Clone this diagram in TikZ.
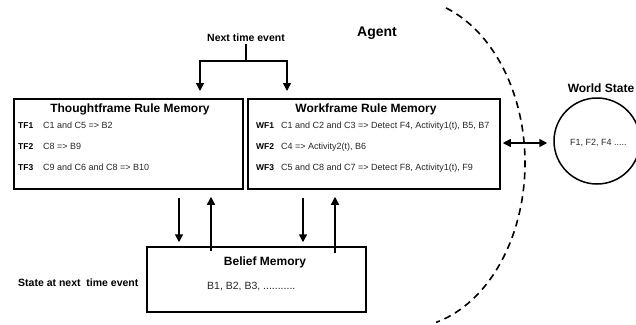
\documentclass[tikz,border=0pt]{standalone}
\usepackage{fontspec}
\setmainfont{Liberation Sans}
\usetikzlibrary{arrows.meta}
\begin{document}
\begin{tikzpicture}[x=1pt,y=-1pt,
  box/.style={draw, line width=1.5pt, inner sep=0pt},
  ttl/.style={font=\fontsize{12}{14}\selectfont\bfseries, inner sep=0pt, anchor=base},
  lbl/.style={font=\fontsize{10.5}{12}\selectfont\bfseries, inner sep=0pt, anchor=base},
  rl/.style={font=\fontsize{8.5}{10}\selectfont\bfseries, anchor=base west, inner sep=0pt},
  rt/.style={font=\fontsize{9}{10}\selectfont, anchor=base west, inner sep=0pt, text=black!85},
  arr/.style={line width=1.5pt, -{Triangle[length=8pt,width=8pt]}},
  darr/.style={line width=1.5pt, {Triangle[length=8pt,width=8pt]}-{Triangle[length=8pt,width=8pt]}},
  agentline/.style={line width=1.6pt, dash pattern=on 7pt off 5pt}
]
\path[use as bounding box] (0,0) rectangle (636,324);
\clip (0,0) rectangle (636,324);

% boxes
\node[box, minimum width=229pt, minimum height=90pt] (tf) at (128.5,144) {};
\node[box, minimum width=252pt, minimum height=90pt] (wf) at (374,144) {};
\node[box, minimum width=219pt, minimum height=65pt] (bm) at (256.5,279.5) {};
\node[draw, circle, line width=1.5pt, minimum size=86pt, inner sep=0pt] (ws) at (597,141) {};

% titles
\node[ttl] (tft) at (130,112) {Thoughtframe Rule Memory};
\node[ttl] (wft) at (366,112) {Workframe Rule Memory};
\node[ttl] (bmt) at (265,265) {Belief Memory};
\node[ttl] (wst) at (601,92.5) {World State};
\node[font=\fontsize{14}{16}\selectfont\bfseries, inner sep=0pt, anchor=base] (ag) at (377,36) {Agent};
\node[lbl] (nte) at (246,41) {Next time event};
\node[lbl, anchor=base west] (sat) at (18,286) {State at next\ \ time event};

% rules
\node[rl] (tf1l) at (18,128.5) {TF1};
\node[rt] (tf1) at (43,128.5) {C1 and C5 => B2};
\node[rl] (tf2l) at (18,149.5) {TF2};
\node[rt] (tf2) at (43,149.5) {C8 => B9};
\node[rl] (tf3l) at (18,170.5) {TF3};
\node[rt] (tf3) at (43,170.5) {C9 and C6 and C8 => B10};

\node[rl] (wf1l) at (256,128.5) {WF1};
\node[rt] (wf1) at (281,128.5) {C1 and C2 and C3 => Detect F4, Activity1(t), B5, B7};
\node[rl] (wf2l) at (256,149.5) {WF2};
\node[rt] (wf2) at (281,149.5) {C4 => Activity2(t), B6};
\node[rl] (wf3l) at (256,170.5) {WF3};
\node[rt] (wf3) at (281,170.5) {C5 and C8 and C7 => Detect F8, Activity1(t), F9};

\node[font=\fontsize{10.5}{12}\selectfont, anchor=base west, inner sep=0pt, text=black!85] (bmc) at (207,289) {B1, B2, B3, ...........};
\node[rt] (wsc) at (570,145) {F1, F2, F4 .....};

% next time event connector
\coordinate (j) at (246,61);
\coordinate (a1) at (200,91);
\coordinate (a2) at (287,91);
\draw[line width=1.5pt] (nte.south) ++(0,3) -- (j);
\draw[arr] (j) -| (a1);
\draw[arr] (j) -| (a2);

% memory arrows
\draw[arr] ([xshift=50.5pt,yshift=-8pt]tf.south) -- ([xshift=-77.5pt,yshift=4pt]bm.north);
\draw[arr] ([xshift=-45.5pt,yshift=-5pt]bm.north) -- ([xshift=82.5pt,yshift=-7pt]tf.south);
\draw[arr] ([xshift=-71pt,yshift=-8pt]wf.south) -- ([xshift=46.5pt,yshift=4pt]bm.north);
\draw[arr] ([xshift=78.5pt,yshift=-7pt]bm.north) -- ([xshift=-39pt,yshift=-7pt]wf.south);

% world interaction
\coordinate (d1) at ([xshift=2pt,yshift=1pt]wf.east);
\draw[darr] (d1) -- ([xshift=-6pt]d1 -| ws.west);

% agent boundary
\draw[agentline] plot[domain=-70:75, samples=80, smooth] ({405+120*cos(\x)}, {163+165*sin(\x)});
\end{tikzpicture}
\end{document}
